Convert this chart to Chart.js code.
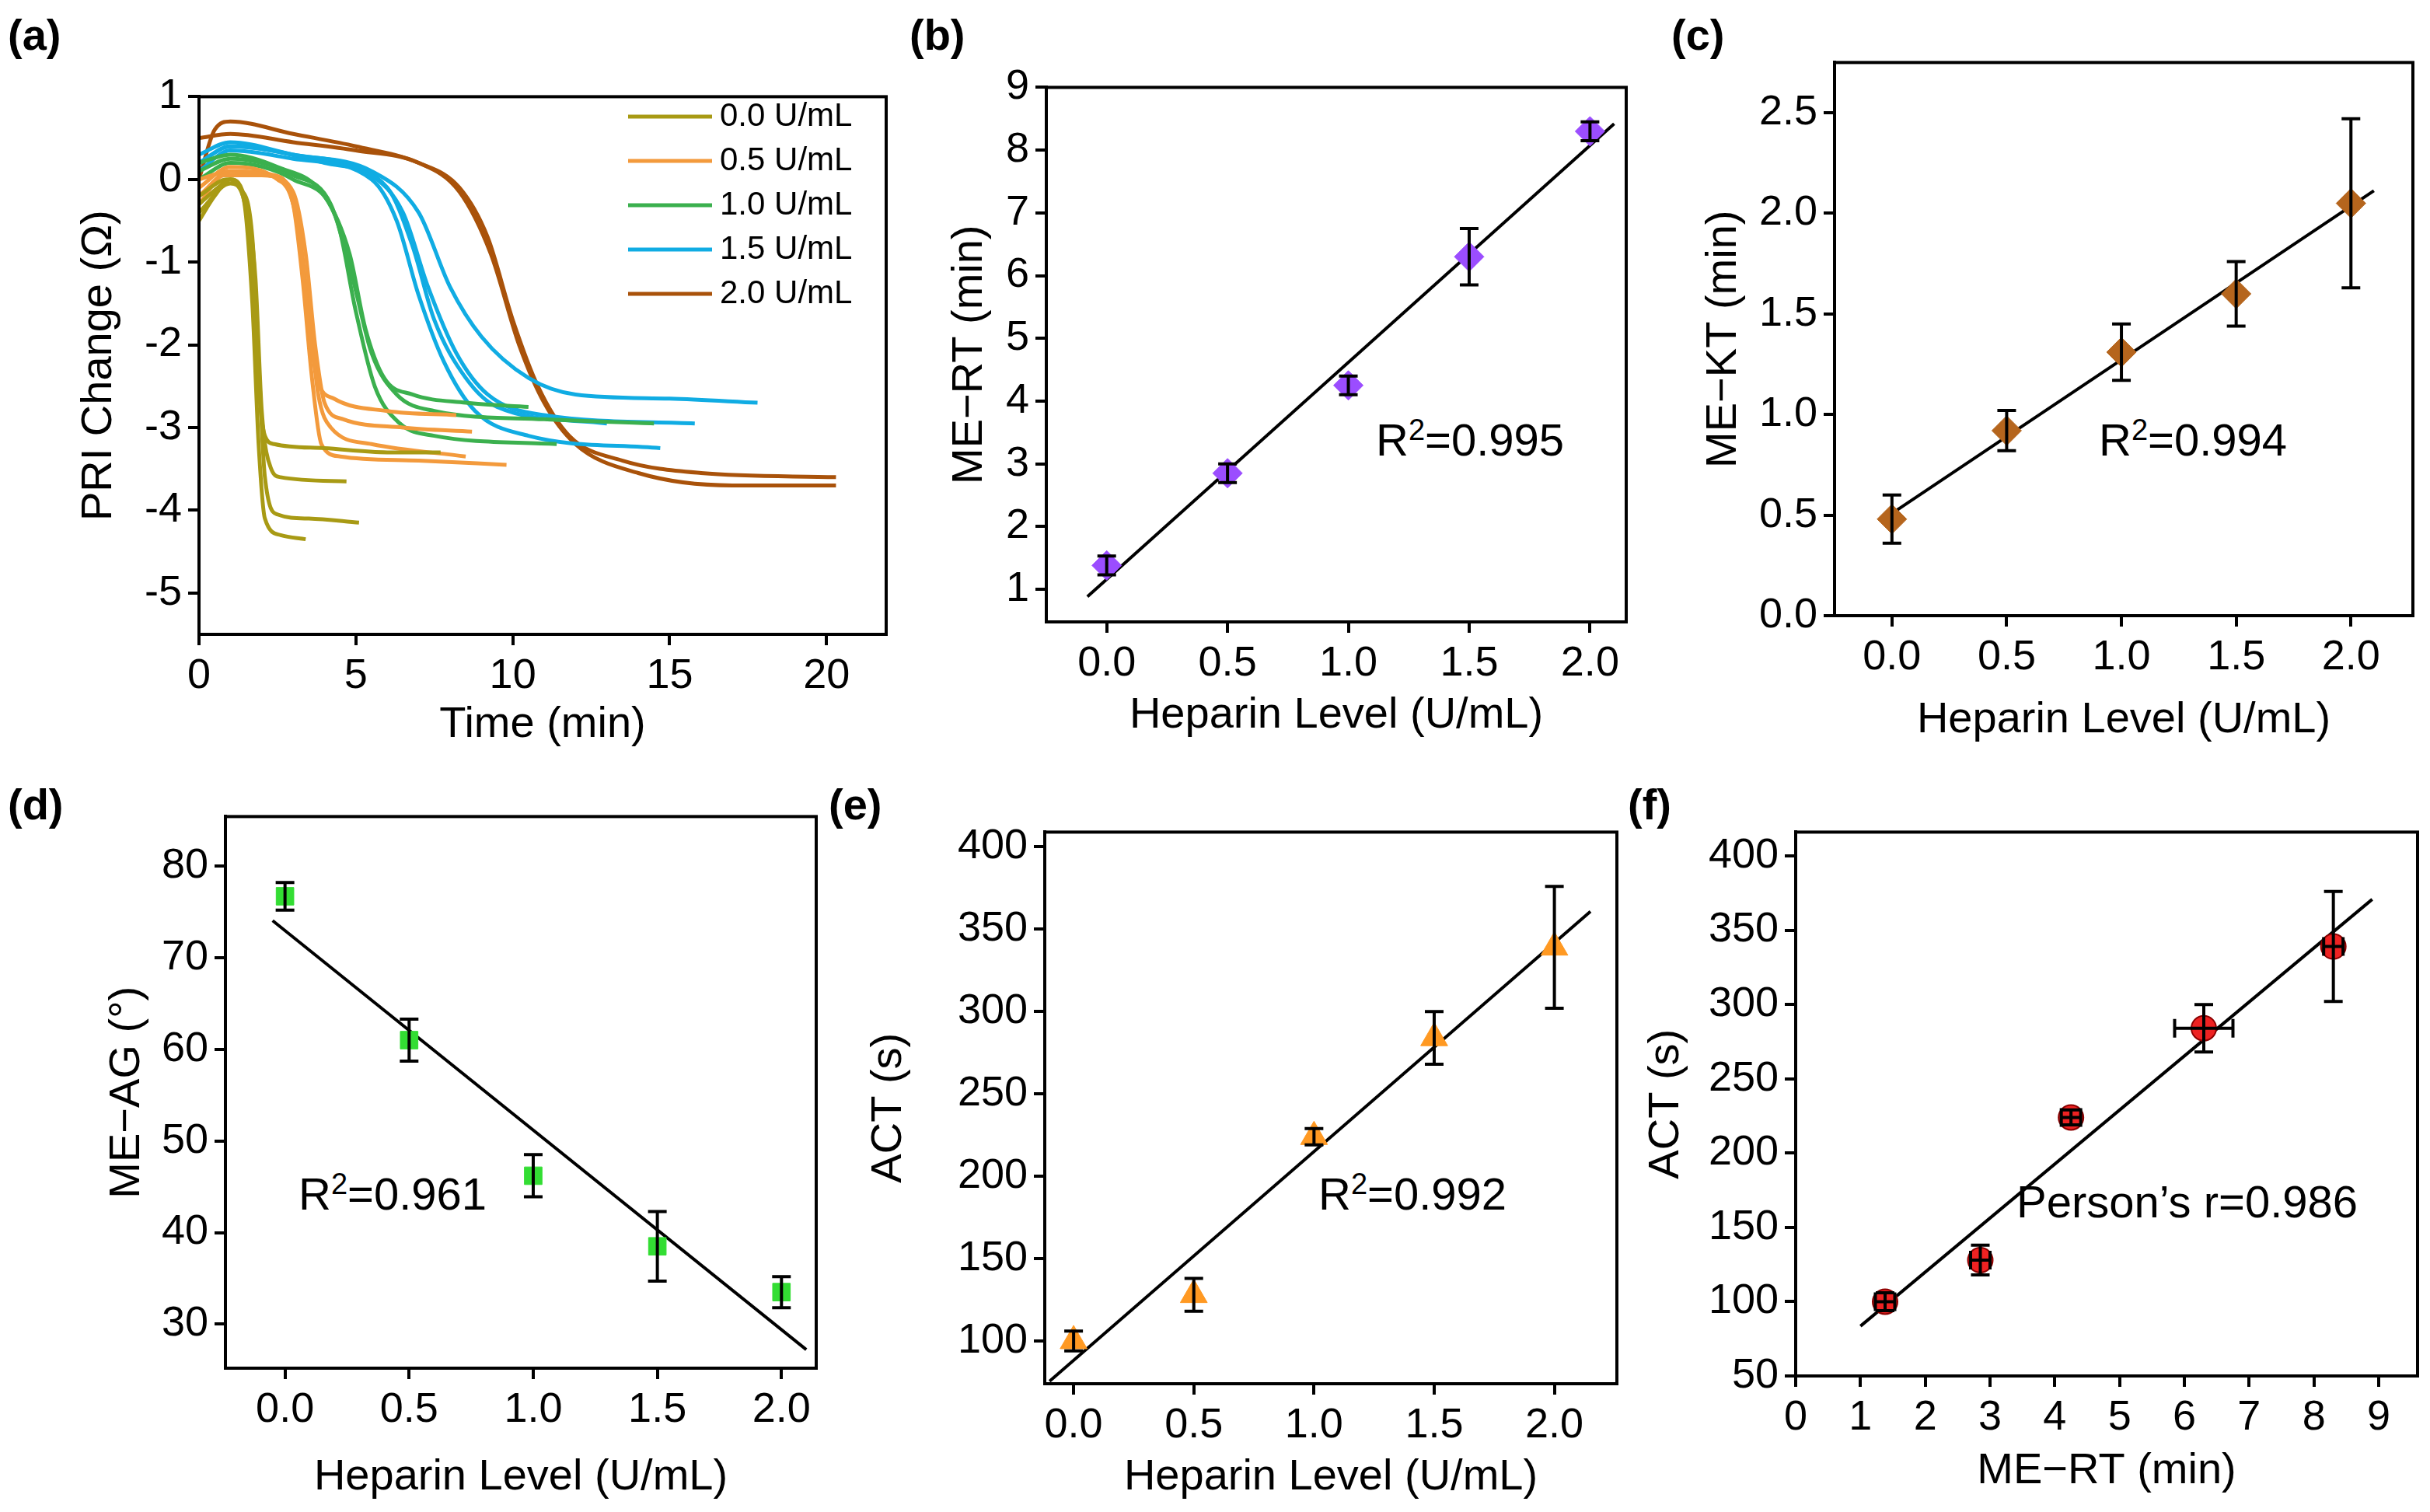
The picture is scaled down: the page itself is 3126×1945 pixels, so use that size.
<!DOCTYPE html>
<html>
<head>
<meta charset="utf-8">
<script src="https://cdn.jsdelivr.net/npm/chart.js@4.4.1/dist/chart.umd.min.js"></script>
<style>
  body { margin: 0; background: #fff; width: 3126px; height: 1945px; position: relative; overflow: hidden;
         font-family: "Liberation Sans", Arial, sans-serif; }
  .pane { position: absolute; }
  .lbl { position: absolute; font-size: 56px; font-weight: bold; color: #000; }
  .note { position: absolute; font-size: 58px; color: #000; white-space: nowrap; }
</style>
</head>
<body>
<div class="lbl" style="left:10px;top:12px">(a)</div>
<div class="lbl" style="left:1170px;top:12px">(b)</div>
<div class="lbl" style="left:2150px;top:12px">(c)</div>
<div class="lbl" style="left:10px;top:1002px">(d)</div>
<div class="lbl" style="left:1066px;top:1002px">(e)</div>
<div class="lbl" style="left:2094px;top:1002px">(f)</div>
<div class="note" style="left:1770px;top:532px">R<sup style="font-size:38px">2</sup>=0.995</div>
<div class="note" style="left:2700px;top:532px">R<sup style="font-size:38px">2</sup>=0.994</div>
<div class="note" style="left:384px;top:1502px">R<sup style="font-size:38px">2</sup>=0.961</div>
<div class="note" style="left:1696px;top:1502px">R<sup style="font-size:38px">2</sup>=0.992</div>
<div class="note" style="left:2594px;top:1512px">Person’s r=0.986</div>

<script>
// ---- data ----
const heparin = [0, 0.5, 1.0, 1.5, 2.0];
const meRT = [1.38, 2.85, 4.25, 6.3, 8.3];
const meRTErr = [0.15, 0.15, 0.15, 0.45, 0.15];
const meKT = [0.48, 0.92, 1.31, 1.6, 2.05];
const meKTErr = [0.12, 0.1, 0.14, 0.16, 0.42];
const meAG = [76.7, 61.0, 46.2, 38.5, 33.5];
const meAGErr = [1.5, 2.3, 2.3, 3.8, 1.7];
const act = [100, 128, 224, 284, 339];
const actErr = [6, 10, 5, 16, 37];

const groupLabels = ['0.0 U/mL', '0.5 U/mL', '1.0 U/mL', '1.5 U/mL', '2.0 U/mL'];
const groupColors = ['#A89A14', '#F39A3C', '#3BB04E', '#10ACE3', '#A9520A'];

// PRI change curves [time (min), change (Ω)]
const curves00 = [
  [[0,-0.5],[0.5,-0.2],[1.0,0.0],[1.4,-0.2],[1.7,-1.0],[1.9,-2.5],[2.1,-3.1],[2.4,-3.2],[4,-3.25],[6,-3.3],[7.7,-3.3]],
  [[0,-0.3],[0.6,-0.1],[1.0,0.0],[1.5,-0.3],[1.8,-1.2],[2.0,-2.8],[2.3,-3.5],[2.6,-3.6],[4.7,-3.65]],
  [[0,-0.2],[0.9,0.0],[1.3,-0.1],[1.7,-0.7],[1.9,-2.2],[2.1,-3.6],[2.5,-4.05],[3.5,-4.1],[5.1,-4.15]],
  [[0,-0.4],[1.0,-0.05],[1.4,-0.2],[1.7,-1.5],[1.9,-3.2],[2.1,-4.1],[2.6,-4.3],[3.4,-4.35]]
];
const curves05 = [
  [[0,-0.3],[0.8,0.05],[2,0.05],[2.8,-0.1],[3.2,-0.7],[3.5,-1.8],[3.8,-2.45],[4.3,-2.65],[6,-2.8],[8.2,-2.85]],
  [[0,-0.2],[1,0.1],[2.2,0.05],[3,-0.15],[3.4,-0.9],[3.7,-2.0],[4.0,-2.7],[4.6,-2.9],[6.5,-3.0],[8.7,-3.05]],
  [[0,-0.1],[1,0.15],[2.5,0.0],[3.1,-0.4],[3.5,-1.6],[3.8,-2.6],[4.2,-3.0],[5.5,-3.2],[8.5,-3.35]],
  [[0,0.0],[1,0.1],[2.4,0.05],[3.0,-0.3],[3.3,-1.2],[3.6,-2.4],[3.9,-3.2],[4.5,-3.35],[7,-3.4],[9.8,-3.45]]
];
const curves10 = [
  [[0,0.2],[1,0.3],[2.5,0.15],[4,-0.2],[4.8,-0.9],[5.3,-1.8],[5.9,-2.4],[6.8,-2.6],[8.5,-2.7],[10.5,-2.75]],
  [[0,0.1],[1,0.25],[3,0.05],[4.2,-0.3],[4.9,-1.2],[5.5,-2.1],[6.3,-2.6],[7.5,-2.8],[11,-2.9],[14.5,-2.95]],
  [[0,0.0],[1,0.2],[3,0.0],[4.4,-0.5],[5.0,-1.6],[5.6,-2.5],[6.4,-2.95],[7.5,-3.1],[11.4,-3.2]]
];
const curves15 = [
  [[0,0.3],[1,0.45],[3,0.3],[5.5,0.1],[7,-0.4],[8,-1.3],[9,-1.9],[10.5,-2.4],[12,-2.6],[15,-2.65],[17.8,-2.7]],
  [[0,0.2],[1,0.4],[3,0.3],[5.5,0.05],[6.5,-0.4],[7.3,-1.3],[8.2,-2.1],[9.2,-2.6],[11,-2.85],[15.8,-2.95]],
  [[0,0.1],[1,0.35],[3,0.25],[5.5,0.0],[6.3,-0.5],[7,-1.4],[7.8,-2.2],[8.8,-2.8],[10.5,-3.1],[14.7,-3.25]],
  [[0,0.2],[1,0.4],[4,0.2],[6,-0.1],[6.8,-0.8],[7.5,-1.7],[8.5,-2.4],[9.5,-2.75],[13,-2.95]]
];
const curves20 = [
  [[0,0.0],[0.5,0.6],[1,0.7],[3,0.55],[5,0.4],[7,0.2],[8.3,-0.1],[9.2,-0.7],[10,-1.7],[10.8,-2.5],[11.8,-3.1],[13.5,-3.4],[16,-3.55],[20.3,-3.6]],
  [[0,0.5],[1,0.55],[3,0.45],[5,0.35],[7,0.2],[8.3,-0.15],[9.3,-0.9],[10.2,-2.0],[11,-2.7],[12,-3.2],[14,-3.55],[17,-3.7],[20.3,-3.7]]
];
const curveGroups = [curves00, curves05, curves10, curves15, curves20];

const timeTicks = [0, 5, 10, 15, 20];
const priTicks = [1, 0, -1, -2, -3, -4, -5];
const hepTicks = [0, 0.5, 1.0, 1.5, 2.0];
const rtTicks = [1, 2, 3, 4, 5, 6, 7, 8, 9];
const ktTicks = [0, 0.5, 1.0, 1.5, 2.0, 2.5];
const agTicks = [30, 40, 50, 60, 70, 80];
const actTicks = [100, 150, 200, 250, 300, 350, 400];
const actTicksF = [50, 100, 150, 200, 250, 300, 350, 400];
const rtTicksF = [0, 1, 2, 3, 4, 5, 6, 7, 8, 9];

// ---- helpers ----
const FONT = { family: '"Liberation Sans", Arial, sans-serif', size: 54 };
const TITLE_FONT = { family: '"Liberation Sans", Arial, sans-serif', size: 56 };

function fitLine(xs, ys, x0, x1) {
  const n = xs.length;
  const mx = xs.reduce((a, b) => a + b) / n, my = ys.reduce((a, b) => a + b) / n;
  let sxy = 0, sxx = 0;
  xs.forEach((x, i) => { sxy += (x - mx) * (ys[i] - my); sxx += (x - mx) * (x - mx); });
  const k = sxy / sxx, b = my - k * mx;
  return [{ x: x0, y: k * x0 + b }, { x: x1, y: k * x1 + b }];
}

const boxPlugin = {
  id: 'box',
  afterDraw(chart) {
    const { ctx, chartArea: a } = chart;
    ctx.save();
    ctx.strokeStyle = '#000';
    ctx.lineWidth = 4;
    ctx.strokeRect(a.left, a.top, a.right - a.left, a.bottom - a.top);
    ctx.restore();
  }
};

const errPlugin = {
  id: 'err',
  afterDatasetsDraw(chart) {
    const { ctx, scales: { x, y } } = chart;
    ctx.save();
    ctx.strokeStyle = '#000';
    ctx.lineWidth = 4;
    chart.data.datasets.forEach(ds => {
      ds.data.forEach((p, i) => {
        const px = x.getPixelForValue(p.x), py = y.getPixelForValue(p.y);
        if (ds.yErr) {
          const t = y.getPixelForValue(p.y + ds.yErr[i]), b = y.getPixelForValue(p.y - ds.yErr[i]);
          ctx.beginPath();
          ctx.moveTo(px, t); ctx.lineTo(px, b);
          ctx.moveTo(px - 12, t); ctx.lineTo(px + 12, t);
          ctx.moveTo(px - 12, b); ctx.lineTo(px + 12, b);
          ctx.stroke();
        }
        if (ds.xErr) {
          const l = x.getPixelForValue(p.x - ds.xErr[i]), r = x.getPixelForValue(p.x + ds.xErr[i]);
          ctx.beginPath();
          ctx.moveTo(l, py); ctx.lineTo(r, py);
          ctx.moveTo(l, py - 12); ctx.lineTo(l, py + 12);
          ctx.moveTo(r, py - 12); ctx.lineTo(r, py + 12);
          ctx.stroke();
        }
      });
    });
    ctx.restore();
  }
};

const legendPlugin = {
  id: 'grpLegend',
  afterDraw(chart) {
    if (!chart.options.plugins.grpLegend) return;
    const { ctx } = chart;
    ctx.save();
    ctx.font = '42px "Liberation Sans", Arial, sans-serif';
    ctx.textBaseline = 'middle';
    groupLabels.forEach((lab, i) => {
      const yy = 150 + i * 57 - chart.canvas.offsetTop;
      const x0 = 808 - chart.canvas.offsetLeft;
      ctx.strokeStyle = groupColors[i];
      ctx.lineWidth = 5;
      ctx.beginPath(); ctx.moveTo(x0, yy); ctx.lineTo(x0 + 108, yy); ctx.stroke();
      ctx.fillStyle = '#000';
      ctx.fillText(lab, x0 + 118, yy);
    });
    ctx.restore();
  }
};

function axis(cfg) {
  return {
    type: 'linear',
    min: cfg.min, max: cfg.max,
    ticks: { font: FONT, color: '#000', padding: 8, autoSkip: false,
             callback: v => cfg.fmt ? v.toFixed(cfg.fmt) : String(v) },
    grid: { drawOnChartArea: false, color: '#000', tickLength: 14, lineWidth: 4, tickWidth: 4 },
    border: { display: true, color: '#000', width: 4 },
    title: { display: true, text: cfg.title, font: TITLE_FONT, color: '#000', padding: 0 },
    afterBuildTicks: s => { s.ticks = cfg.ticks.map(v => ({ value: v })); },
    afterFit: s => { if (cfg.w) s.width = cfg.w; if (cfg.h) s.height = cfg.h; }
  };
}

function makePanel(box, datasets, xCfg, yCfg, extra) {
  const c = document.createElement('canvas');
  const left = box.L - yCfg.w, top = box.T - 20;
  const w = box.R - left + 30, h = box.B + xCfg.h - top;
  c.className = 'pane';
  c.style.left = left + 'px'; c.style.top = top + 'px';
  c.style.width = w + 'px'; c.style.height = h + 'px';
  c.width = w; c.height = h;
  document.body.appendChild(c);
  new Chart(c, {
    type: 'scatter',
    data: { datasets },
    options: {
      responsive: false, animation: false, devicePixelRatio: 1,
      layout: { padding: { top: 20, right: 30, left: 0, bottom: 0 } },
      plugins: { legend: { display: false }, tooltip: { enabled: false }, grpLegend: !!extra },
      scales: { x: axis(xCfg), y: axis(yCfg) }
    },
    plugins: [boxPlugin, errPlugin, legendPlugin]
  });
}

function pts(xs, ys) { return xs.map((x, i) => ({ x, y: ys[i] })); }
function fitDs(xs, ys, x0, x1) {
  return { type: 'line', data: fitLine(xs, ys, x0, x1), borderColor: '#000', borderWidth: 4, pointRadius: 0, showLine: true };
}
function markDs(xs, ys, err, color, style, r) {
  return { data: pts(xs, ys), yErr: err, pointStyle: style, pointRadius: r,
           backgroundColor: color, borderColor: color, borderWidth: 1 };
}

// (a)
const aSets = [];
curveGroups.forEach((g, gi) => g.forEach(cv => aSets.push({
  type: 'line', data: cv.map(p => ({ x: p[0], y: p[1] })), borderColor: groupColors[gi],
  borderWidth: 5, pointRadius: 0, tension: 0.3, cubicInterpolationMode: 'monotone', showLine: true
})));
makePanel({ L: 256, T: 104, R: 1140, B: 816 }, aSets,
  { min: 0, max: 21.9, ticks: timeTicks, title: 'Time (min)', h: 150 },
  { min: -5.5, max: 1, ticks: priTicks, title: 'PRI Change (Ω)', w: 162 }, true);

// (b)
makePanel({ L: 1346, T: 92, R: 2092, B: 800 },
  [markDs(heparin, meRT, meRTErr, '#9B4DFF', 'rectRot', 19), fitDs(heparin, meRT, -0.08, 2.1)],
  { min: -0.25, max: 2.15, ticks: hepTicks, fmt: 1, title: 'Heparin Level (U/mL)', h: 154 },
  { min: 0.48, max: 9, ticks: rtTicks, title: 'ME−RT (min)', w: 132 });

// (c)
makePanel({ L: 2360, T: 60, R: 3104, B: 792 },
  [markDs(heparin, meKT, meKTErr, '#B5651D', 'rectRot', 19), fitDs(heparin, meKT, -0.05, 2.1)],
  { min: -0.25, max: 2.27, ticks: hepTicks, fmt: 1, title: 'Heparin Level (U/mL)', h: 168 },
  { min: 0, max: 2.75, ticks: ktTicks, fmt: 1, title: 'ME−KT (min)', w: 176 });

// (d)
makePanel({ L: 290, T: 1030, R: 1050, B: 1760 },
  [markDs(heparin, meAG, meAGErr, '#33DD33', 'rect', 16), fitDs(heparin, meAG, -0.05, 2.1)],
  { min: -0.24, max: 2.14, ticks: hepTicks, fmt: 1, title: 'Heparin Level (U/mL)', h: 174 },
  { min: 25.2, max: 85.4, ticks: agTicks, title: 'ME−AG (°)', w: 160 });

// (e)
makePanel({ L: 1344, T: 1050, R: 2080, B: 1780 },
  [markDs(heparin, act, actErr, '#FF9922', 'triangle', 20), fitDs(heparin, act, -0.1, 2.15)],
  { min: -0.12, max: 2.26, ticks: hepTicks, fmt: 1, title: 'Heparin Level (U/mL)', h: 154 },
  { min: 74, max: 409, ticks: actTicks, title: 'ACT (s)', w: 234 });

// (f)
const fMarks = { data: pts(meRT, act), yErr: actErr, xErr: meRTErr, pointStyle: 'circle', pointRadius: 16,
                 backgroundColor: '#EE2222', borderColor: '#8B0000', borderWidth: 2 };
makePanel({ L: 2310, T: 1050, R: 3110, B: 1770 },
  [fMarks, fitDs(meRT, act, 1.0, 8.9)],
  { min: 0, max: 9.6, ticks: rtTicksF, title: 'ME−RT (min)', h: 156 },
  { min: 50, max: 416, ticks: actTicksF, title: 'ACT (s)', w: 200 });
</script>
</body>
</html>
